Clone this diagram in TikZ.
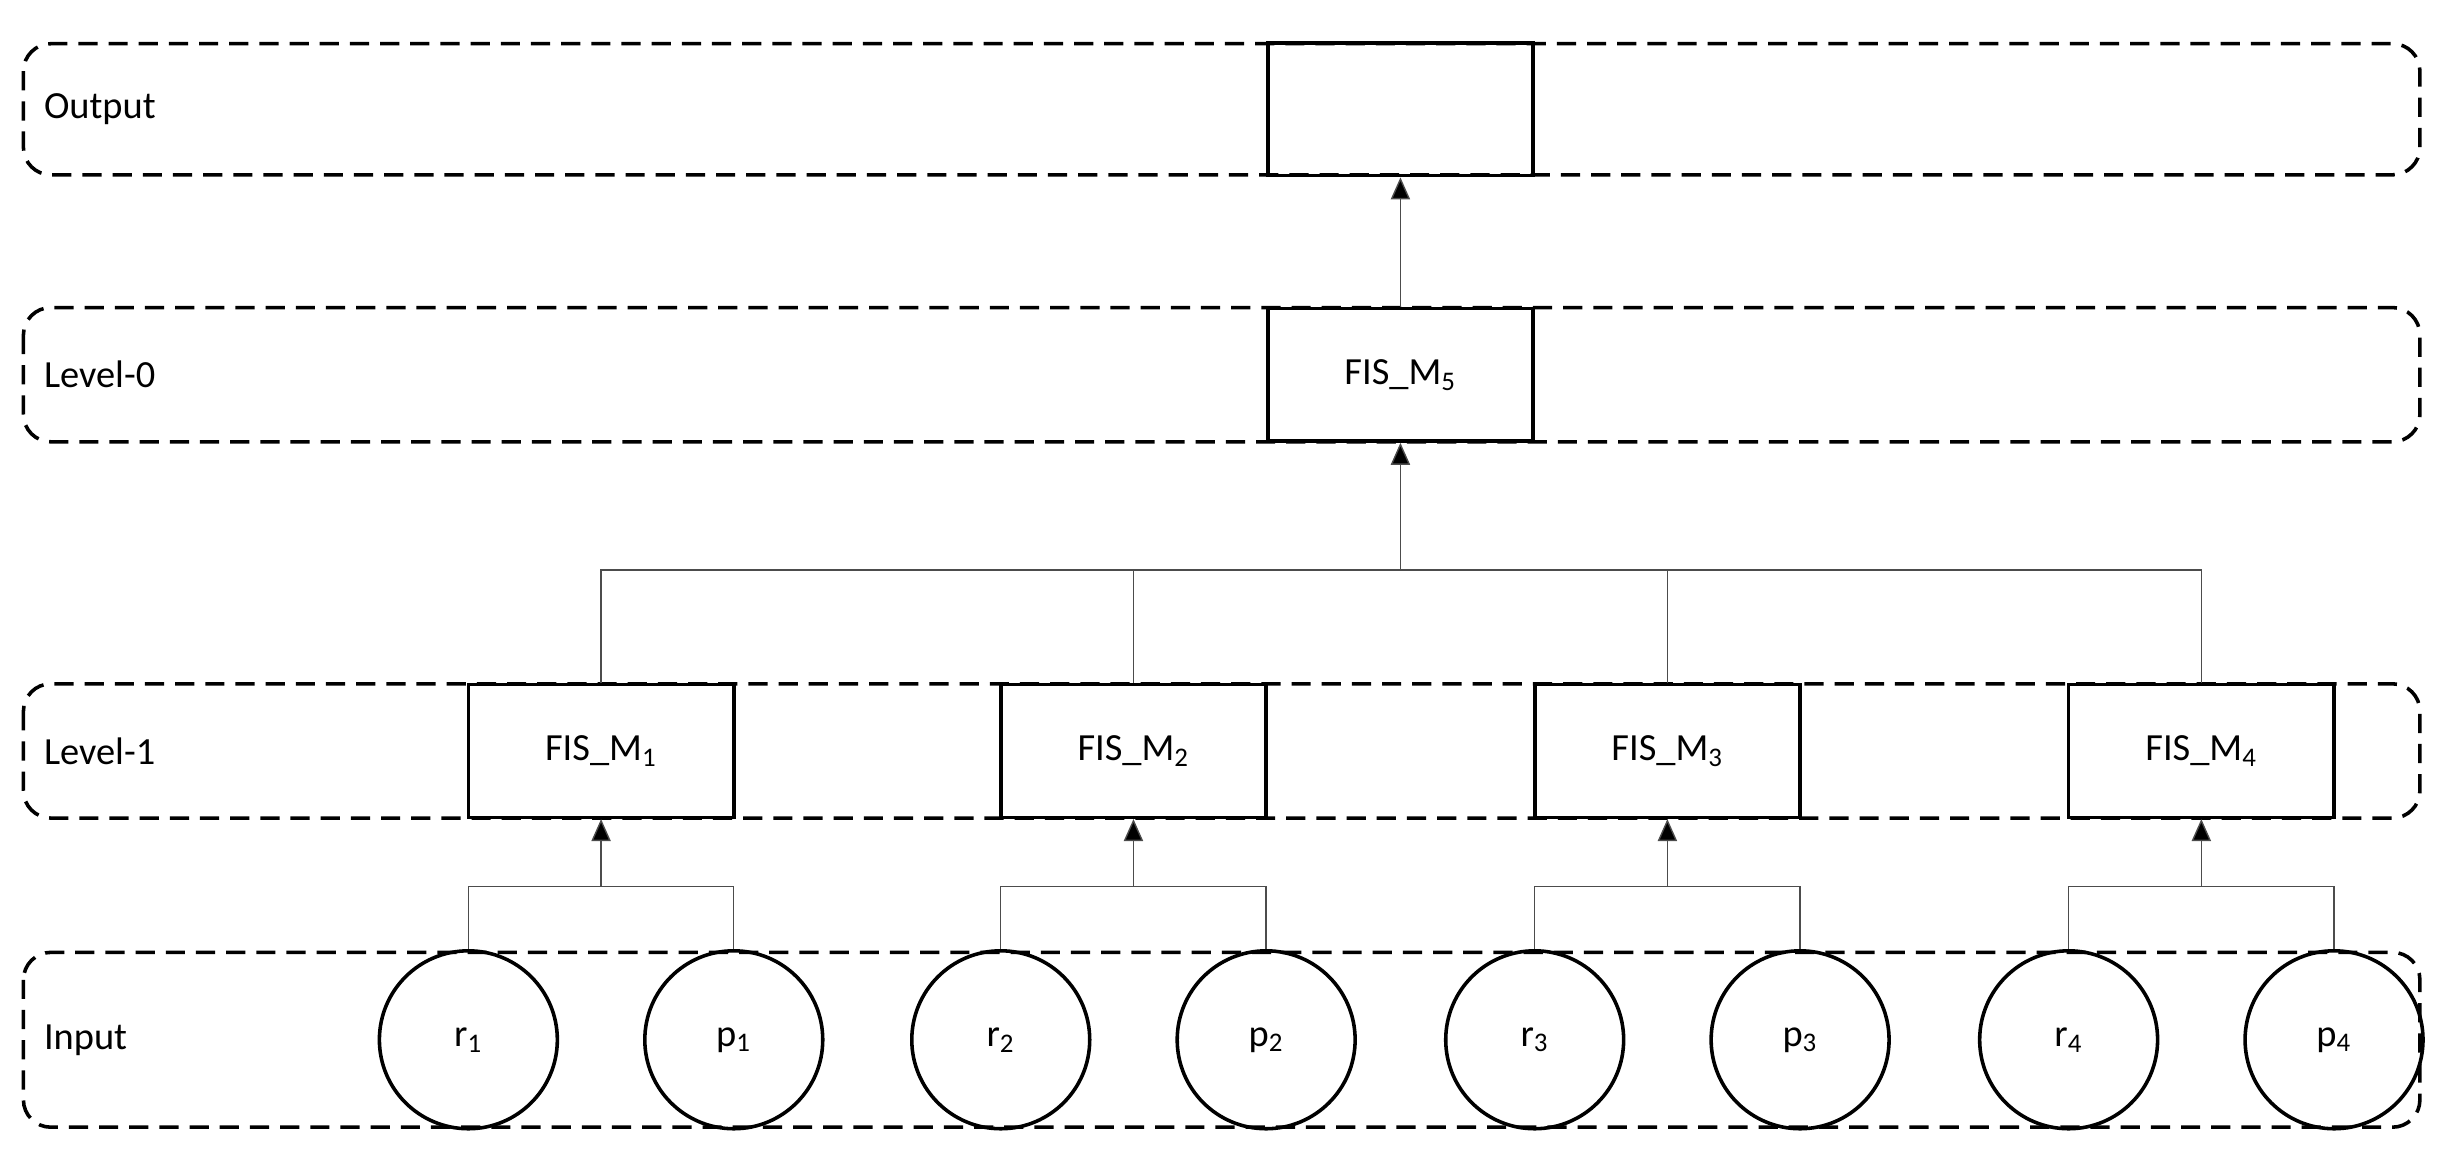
\documentclass[tikz,border=0pt]{standalone}
\usepackage{fontspec}
\setmainfont{Carlito}
\usetikzlibrary{arrows.meta}
\begin{document}
\begin{tikzpicture}[x=0.02cm,y=-0.02cm,
 band/.style={draw,line width=1.3pt,dash pattern=on 7pt off 4pt,rounded corners=10pt},
 box/.style={draw,line width=1.3pt,minimum width=3.4cm,minimum height=1.7cm,inner sep=0pt,font=\fontsize{14}{16}\selectfont},
 inp/.style={draw,line width=1.3pt,circle,minimum size=2.28cm,inner sep=0pt,font=\fontsize{14}{16}\selectfont},
 lab/.style={anchor=west,font=\fontsize{14}{16}\selectfont},
 con/.style={draw=black!70,line width=0.5pt},
 arr/.style={con,-{Triangle[length=8pt,width=7pt,fill=black]}}]
\useasboundingbox (0,0) rectangle (1568,749);
\draw[band] (15,28) rectangle (1550,112);
\draw[band] (15,197) rectangle (1550,283);
\draw[band] (15,438) rectangle (1550,524);
\draw[band] (15,610) rectangle (1550,722);
\node[lab] (lo) at (22,70) {Output};
\node[lab] (l0) at (22,240) {Level-0};
\node[lab] (l1) at (22,481) {Level-1};
\node[lab] (li) at (22,666) {Input};
\node[box] (out) at (897,70) {};
\node[box] (m5) at (897,240) {FIS\_M\textsubscript{5}};
\foreach \i/\x in {1/385,2/726,3/1068,4/1410}{
 \node[box] (m\i) at (\x,481) {FIS\_M\textsubscript{\i}};
 \node[inp] (r\i) at (\x-85,666) {r\textsubscript{\i}};
 \node[inp] (p\i) at (\x+85,666) {p\textsubscript{\i}};
 \coordinate (j\i) at (\x,568);
 \draw[con] (r\i.north) |- (j\i) -| (p\i.north);
 \draw[arr] (j\i) -- (m\i.south);
 \coordinate (k\i) at (\x,365);
}
\coordinate (k5) at (897,365);
\draw[con] (m1.north) |- (k1) -- (k4) -| (m4.north);
\draw[con] (m2.north) -- (k2);
\draw[con] (m3.north) -- (k3);
\draw[arr] (k5) -- (m5.south);
\draw[arr] (m5.north) -- (out.south);
\end{tikzpicture}
\end{document}
